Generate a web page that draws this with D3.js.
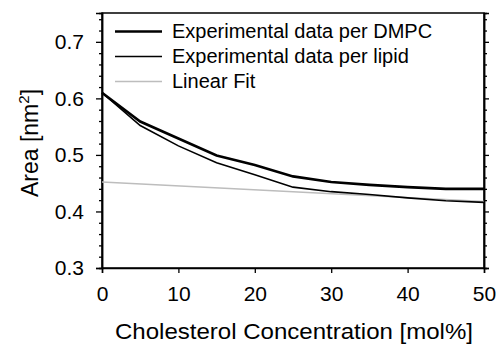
<!DOCTYPE html>
<html>
<head>
<meta charset="utf-8">
<script src="https://cdn.jsdelivr.net/npm/d3@7"></script>
<style>
  body { margin: 0; background: #fff; }
  text { font-family: "Liberation Sans", Arial, sans-serif; fill: #000; }
</style>
</head>
<body>
<div id="chart"></div>
<script>
var svgWidth = 499;
var svgHeight = 346;

var margin = { top: 13, right: 15, bottom: 78, left: 102 };
var width = svgWidth - margin.left - margin.right;
var height = svgHeight - margin.top - margin.bottom;

// data
var conc = [0, 5, 10, 15, 20, 25, 30, 35, 40, 45, 50];
var areaDMPC = [0.610, 0.559, 0.529, 0.499, 0.482, 0.462, 0.452, 0.447, 0.443, 0.440, 0.440];
var areaLipid = [0.610, 0.552, 0.516, 0.486, 0.465, 0.443, 0.435, 0.430, 0.424, 0.419, 0.416];
var fitX = [0, 50];
var fitY = [0.452, 0.4175];
var xTicks = [0, 10, 20, 30, 40, 50];
var yTicks = [0.3, 0.4, 0.5, 0.6, 0.7];
var legendLabels = ["Experimental data per DMPC", "Experimental data per lipid", "Linear Fit"];

var svg = d3.select("#chart")
  .append("svg")
  .attr("width", svgWidth)
  .attr("height", svgHeight);

var chartGroup = svg.append("g")
  .attr("transform", `translate(${margin.left}, ${margin.top})`);

var xScale = d3.scaleLinear().domain([0, 50]).range([0, width]);
var yScale = d3.scaleLinear().domain([0.3, 0.751]).range([height, 0]);

var minorY = d3.range(0.30, 0.7501, 0.02).filter(v => Math.abs(v * 10 - Math.round(v * 10)) > 1e-6);

// frame
chartGroup.append("rect")
  .attr("width", width)
  .attr("height", height)
  .attr("fill", "none")
  .attr("stroke", "#000")
  .attr("stroke-width", 1.5);

// bottom axis
var xAxis = chartGroup.append("g")
  .attr("transform", `translate(0, ${height})`)
  .call(d3.axisBottom(xScale).tickValues(xTicks).tickSize(5).tickPadding(13).tickFormat(d3.format("d")));

// left axis major + minor
var yAxis = chartGroup.append("g")
  .call(d3.axisLeft(yScale).tickValues(yTicks).tickSize(6).tickPadding(12).tickFormat(d3.format(".1f")));
chartGroup.append("g")
  .call(d3.axisLeft(yScale).tickValues(minorY).tickSize(3).tickFormat(""));

// right axis ticks
chartGroup.append("g")
  .attr("transform", `translate(${width}, 0)`)
  .call(d3.axisRight(yScale).tickValues(yTicks).tickSize(5).tickFormat(""));
chartGroup.append("g")
  .attr("transform", `translate(${width}, 0)`)
  .call(d3.axisRight(yScale).tickValues(minorY).tickSize(3).tickFormat(""));

chartGroup.selectAll(".domain").attr("stroke-width", 1.5);
chartGroup.selectAll(".tick line").attr("stroke-width", 1.3);
chartGroup.selectAll(".tick text")
  .style("font-family", "'Liberation Sans', Arial, sans-serif")
  .style("font-size", "21px");

// lines
var line = d3.line()
  .x(d => xScale(d[0]))
  .y(d => yScale(d[1]));

chartGroup.append("path")
  .datum(d3.zip(fitX, fitY))
  .attr("d", line)
  .attr("fill", "none")
  .attr("stroke", "#bdbdbd")
  .attr("stroke-width", 1.6);

chartGroup.append("path")
  .datum(d3.zip(conc, areaLipid))
  .attr("d", line)
  .attr("fill", "none")
  .attr("stroke", "#000")
  .attr("stroke-width", 1.6);

chartGroup.append("path")
  .datum(d3.zip(conc, areaDMPC))
  .attr("d", line)
  .attr("fill", "none")
  .attr("stroke", "#000")
  .attr("stroke-width", 2.6);

// legend
var legendStyles = [
  { color: "#000", w: 2.6 },
  { color: "#000", w: 1.6 },
  { color: "#bdbdbd", w: 1.6 }
];
var legend = chartGroup.append("g").attr("transform", "translate(13, 18.5)");
legendLabels.forEach(function(label, i) {
  var row = legend.append("g").attr("transform", `translate(0, ${i * 25})`);
  row.append("line")
    .attr("x1", 0).attr("x2", 47)
    .attr("stroke", legendStyles[i].color)
    .attr("stroke-width", legendStyles[i].w);
  row.append("text")
    .attr("x", 57)
    .attr("y", 6.5)
    .style("font-size", "20px")
    .text(label);
});

// axis titles
svg.append("text")
  .attr("x", 294)
  .attr("y", 339)
  .attr("text-anchor", "middle")
  .attr("textLength", 358)
  .attr("lengthAdjust", "spacingAndGlyphs")
  .style("font-size", "22px")
  .text("Cholesterol Concentration [mol%]");

var yTitle = svg.append("text")
  .attr("transform", "translate(38, 143) rotate(-90)")
  .attr("text-anchor", "middle")
  .style("font-size", "23px");
yTitle.append("tspan").text("Area [nm");
yTitle.append("tspan").attr("dy", -9).style("font-size", "15px").text("2");
yTitle.append("tspan").attr("dy", 9).text("]");
</script>
</body>
</html>
